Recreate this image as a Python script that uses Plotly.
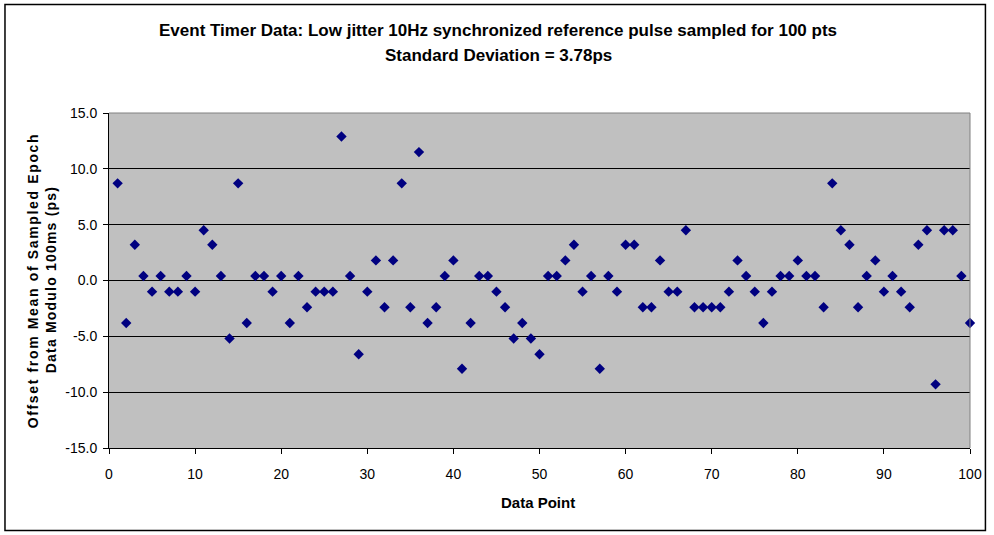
import plotly.graph_objects as go

data_point = list(range(1, 101))
offset_ps = [
    8.7, -3.8, 3.2, 0.4, -1.0, 0.4, -1.0, -1.0, 0.4, -1.0,
    4.5, 3.2, 0.4, -5.2, 8.7, -3.8, 0.4, 0.4, -1.0, 0.4,
    -3.8, 0.4, -2.4, -1.0, -1.0, -1.0, 12.9, 0.4, -6.6, -1.0,
    1.8, -2.4, 1.8, 8.7, -2.4, 11.5, -3.8, -2.4, 0.4, 1.8,
    -7.9, -3.8, 0.4, 0.4, -1.0, -2.4, -5.2, -3.8, -5.2, -6.6,
    0.4, 0.4, 1.8, 3.2, -1.0, 0.4, -7.9, 0.4, -1.0, 3.2,
    3.2, -2.4, -2.4, 1.8, -1.0, -1.0, 4.5, -2.4, -2.4, -2.4,
    -2.4, -1.0, 1.8, 0.4, -1.0, -3.8, -1.0, 0.4, 0.4, 1.8,
    0.4, 0.4, -2.4, 8.7, 4.5, 3.2, -2.4, 0.4, 1.8, -1.0,
    0.4, -1.0, -2.4, 3.2, 4.5, -9.3, 4.5, 4.5, 0.4, -3.8,
]
x_ticks = list(range(0, 101, 10))
y_ticks = [15, 10, 5, 0, -5, -10, -15]
y_tick_labels = ["15.0", "10.0", "5.0", "0.0", "-5.0", "-10.0", "-15.0"]

title_1 = "Event Timer Data: Low jitter 10Hz synchronized reference pulse sampled for 100 pts"
title_2 = "Standard Deviation = 3.78ps"
x_title = "Data Point"
y_title_1 = "Offset from Mean of Sampled Epoch"
y_title_2 = "Data Modulo 100ms (ps)"

FONT = "Liberation Sans, Arial, sans-serif"
W, H = 994, 535
L, R, T, B = 109, 20, 113, 87
pw, ph = W - L - R, H - T - B

def px(xp):
    return (xp - L) / pw

def py(yp):
    return (H - B - yp) / ph

fig = go.Figure()
fig.add_trace(go.Scatter(
    x=data_point, y=offset_ps, mode="markers",
    marker=dict(symbol="diamond", size=8, color="#000080",
                line=dict(width=0)),
    cliponaxis=False, showlegend=False,
))

fig.update_layout(
    width=W, height=H,
    margin=dict(l=L, r=R, t=T, b=B, pad=0),
    paper_bgcolor="white", plot_bgcolor="#C0C0C0",
    font=dict(family=FONT, size=14, color="black"),
    xaxis=dict(range=[0, 100], tickvals=x_ticks, ticks="outside", ticklen=5,
               tickcolor="black", showgrid=False, zeroline=False,
               showline=True, linecolor="black", linewidth=1,
               tickfont=dict(size=14), ticklabelstandoff=8, fixedrange=True),
    yaxis=dict(range=[-15, 15], tickvals=y_ticks, ticktext=y_tick_labels,
               ticks="outside", ticklen=5, tickcolor="black",
               showgrid=True, gridcolor="black", gridwidth=1,
               zeroline=False, showline=True, linecolor="black", linewidth=1,
               tickfont=dict(size=14), ticklabelstandoff=3, fixedrange=True),
    shapes=[
        dict(type="line", xref="paper", yref="paper", x0=0, x1=1, y0=1, y1=1,
             line=dict(color="#808080", width=1)),
        dict(type="line", xref="paper", yref="paper", x0=1, x1=1, y0=0, y1=1,
             line=dict(color="#808080", width=1)),
        dict(type="rect", xref="paper", yref="paper",
             x0=px(4.5), x1=px(989.5), y0=py(4.5), y1=py(530.5),
             line=dict(color="black", width=1.5), layer="above"),
    ],
    annotations=[
        dict(text=f"<b>{title_1}</b>", xref="paper", yref="paper",
             x=px(500), y=py(31), showarrow=False,
             font=dict(size=17, family=FONT), xanchor="center", yanchor="middle"),
        dict(text=f"<b>{title_2}</b>", xref="paper", yref="paper",
             x=px(500), y=py(56), showarrow=False,
             font=dict(size=17, family=FONT), xanchor="center", yanchor="middle"),
        dict(text=f"<b>{x_title}</b>", xref="paper", yref="paper",
             x=px(540), y=py(502), showarrow=False,
             font=dict(size=15, family=FONT), xanchor="center", yanchor="middle"),
        dict(text=f"<span style='letter-spacing:1.65px'><b>{y_title_1}</b></span>",
             xref="paper", yref="paper",
             x=px(33), y=py(280), showarrow=False, textangle=-90,
             font=dict(size=14, family=FONT), xanchor="center", yanchor="middle"),
        dict(text=f"<span style='letter-spacing:1.2px'><b>{y_title_2}</b></span>",
             xref="paper", yref="paper",
             x=px(51), y=py(280), showarrow=False, textangle=-90,
             font=dict(size=14, family=FONT), xanchor="center", yanchor="middle"),
    ],
)

fig.write_html("out.html", config={"displayModeBar": False},
               post_script="document.body.style.margin='0';document.body.style.padding='0';")
